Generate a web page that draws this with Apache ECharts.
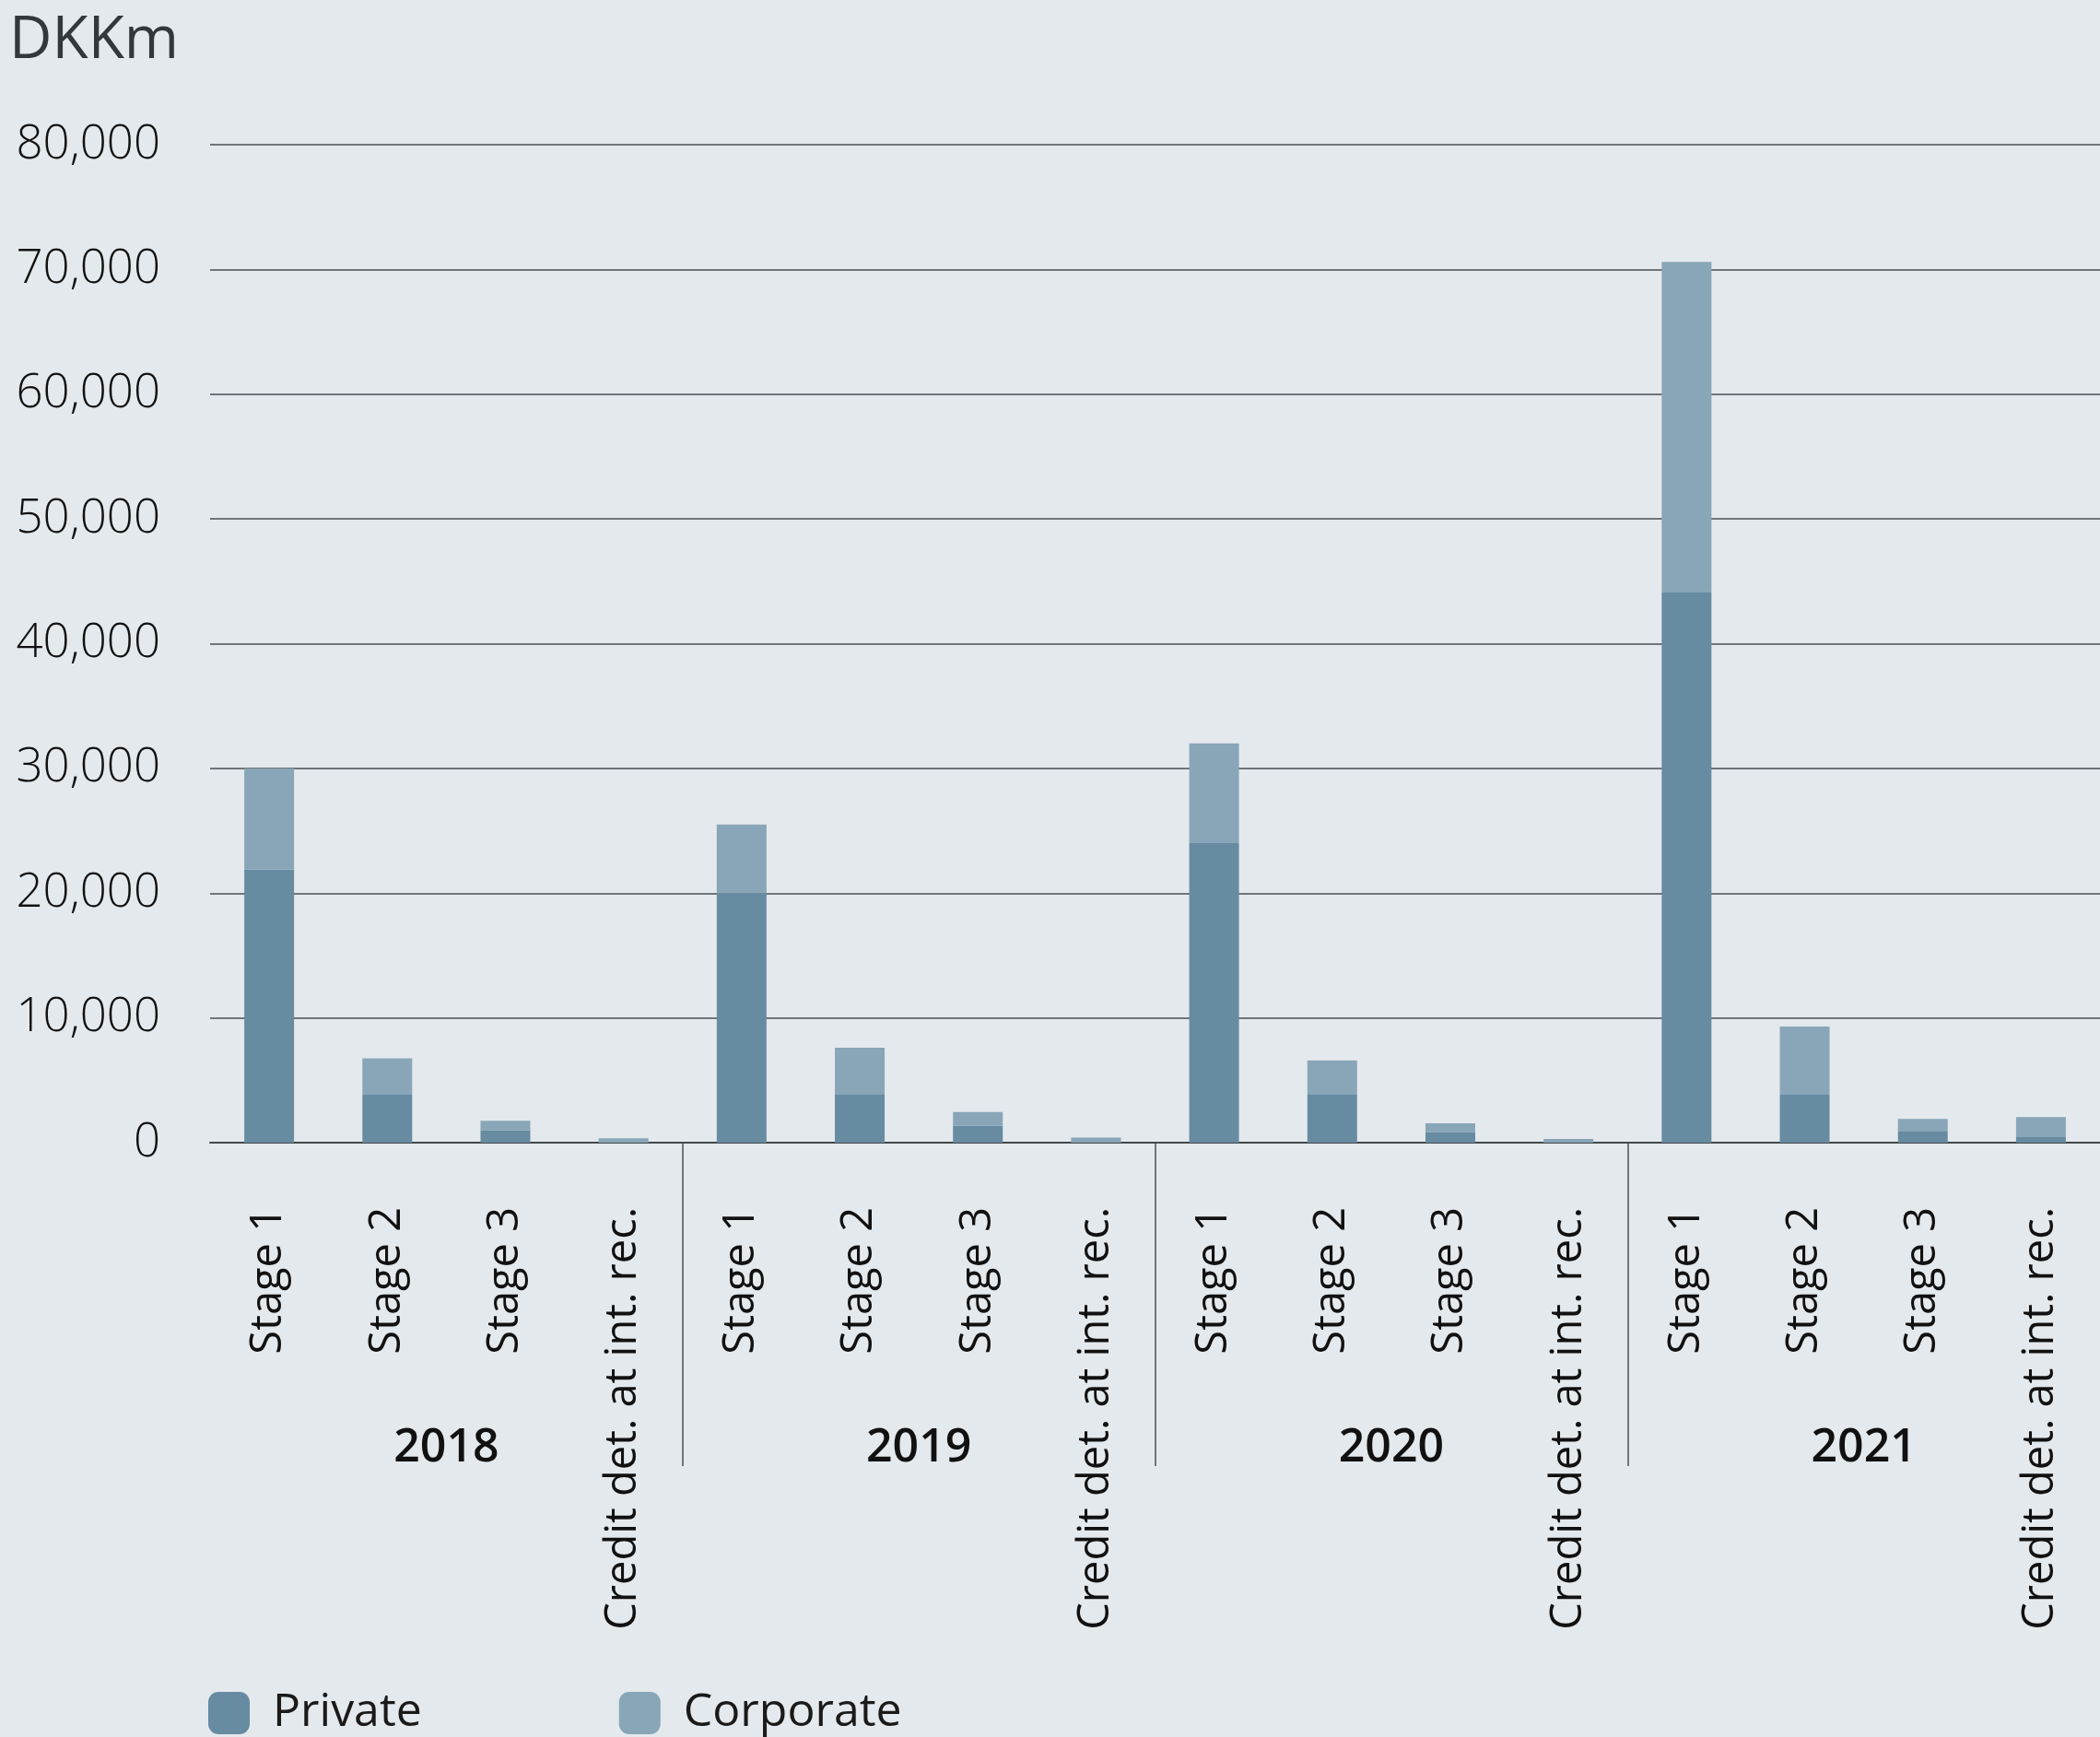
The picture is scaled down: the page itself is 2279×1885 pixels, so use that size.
<!DOCTYPE html>
<html>
<head>
<meta charset="utf-8">
<script src="https://cdn.jsdelivr.net/npm/echarts@6/dist/echarts.min.js"></script>
<style>
html,body{margin:0;padding:0;background:#e4e9ed;}
#chart{width:2279px;height:1885px;}
</style>
</head>
<body>
<div id="chart"></div>
<script>
// ---- data ----
const years = ['2018', '2019', '2020', '2021'];
const stages = ['Stage 1', 'Stage 2', 'Stage 3', 'Credit det. at int. rec.'];
const categories = [
  'Stage 1', 'Stage 2', 'Stage 3', 'Credit det. at int. rec.',
  'Stage 1', 'Stage 2', 'Stage 3', 'Credit det. at int. rec.',
  'Stage 1', 'Stage 2', 'Stage 3', 'Credit det. at int. rec.',
  'Stage 1', 'Stage 2', 'Stage 3', 'Credit det. at int. rec.'
];
const privateValues = [21900, 3850, 1000, 0, 20000, 3900, 1350, 0, 24000, 3850, 850, 0, 44100, 3850, 950, 450];
const corporateValues = [8100, 2900, 750, 350, 5500, 3700, 1100, 400, 8000, 2750, 700, 300, 26500, 5450, 950, 1600];
const yTicks = { min: 0, max: 80000, interval: 10000 };
const unitLabel = 'DKKm';

const FONT = '"Open Sans", "DejaVu Sans", sans-serif';
const chart = echarts.init(document.getElementById('chart'), null, { renderer: 'canvas' });

chart.setOption({
  backgroundColor: '#e4e9ed',
  animation: false,
  title: {
    text: unitLabel,
    left: 10,
    top: 13,
    padding: 0,
    textStyle: { fontFamily: FONT, fontSize: 64, fontWeight: 500, color: '#33383b' }
  },
  legend: {
    left: 226,
    top: 1834,
    padding: 0,
    itemWidth: 45,
    itemHeight: 46,
    itemGap: 214,
    icon: 'roundRect',
    textStyle: { fontFamily: FONT, fontSize: 50, fontWeight: 500, color: '#1a1a1a', padding: [0, 0, 0, 20] },
    data: ['Private', 'Corporate']
  },
  grid: [
    { left: 228, right: 0, top: 157, bottom: 645, containLabel: false },
    { left: 228, right: 0, top: 1240, height: 351, containLabel: false }
  ],
  xAxis: [
    {
      type: 'category',
      gridIndex: 0,
      data: categories,
      axisLine: { show: true, lineStyle: { color: '#42474a', width: 2 } },
      axisTick: { show: false },
      axisLabel: {
        interval: 0,
        rotate: 90,
        margin: 70,
        fontFamily: FONT,
        fontSize: 47,
        fontWeight: 400,
        color: '#111'
      },
      splitLine: { show: false }
    },
    {
      type: 'category',
      gridIndex: 1,
      position: 'top',
      data: years,
      axisLine: { show: false },
      axisTick: { show: false },
      axisLabel: {
        inside: true,
        margin: 307,
        fontFamily: FONT,
        fontSize: 50,
        fontWeight: 600,
        color: '#111'
      },
      splitLine: {
        show: true,
        showMinLine: false,
        showMaxLine: false,
        interval: 0,
        lineStyle: { color: '#4a4f52', width: 1.5 }
      }
    }
  ],
  yAxis: [
    {
      type: 'value',
      gridIndex: 0,
      min: yTicks.min,
      max: yTicks.max,
      interval: yTicks.interval,
      axisLine: { show: false },
      axisTick: { show: false },
      axisLabel: {
        margin: 54,
        fontFamily: FONT,
        fontSize: 51,
        fontWeight: 300,
        color: '#111'
      },
      splitLine: { show: true, lineStyle: { color: '#70757a', width: 2 } }
    },
    {
      type: 'value',
      gridIndex: 1,
      show: false,
      min: 0,
      max: 1
    }
  ],
  series: [
    {
      name: 'Private',
      type: 'bar',
      stack: 'total',
      xAxisIndex: 0,
      yAxisIndex: 0,
      barWidth: 54,
      itemStyle: { color: '#678ba1' },
      data: privateValues
    },
    {
      name: 'Corporate',
      type: 'bar',
      stack: 'total',
      xAxisIndex: 0,
      yAxisIndex: 0,
      barWidth: 54,
      itemStyle: { color: '#88a6b7' },
      data: corporateValues
    }
  ]
});
</script>
</body>
</html>
